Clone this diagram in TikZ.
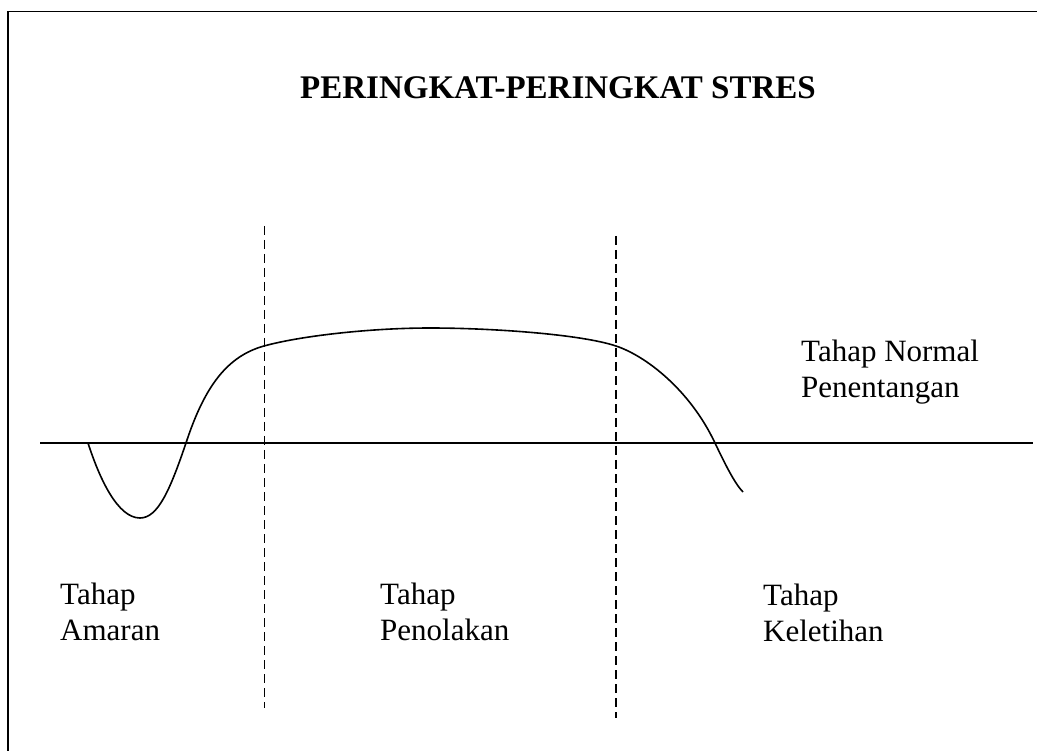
\documentclass[tikz,border=0pt]{standalone}
\usepackage{fontspec}
\setmainfont{Liberation Serif}
\begin{document}
\begin{tikzpicture}[x=1pt,y=-1pt,
  ln/.style={line width=1.6pt,black},
  dashln/.style={line width=1.6pt,black,dash pattern=on 9pt off 5pt},
  lbl/.style={anchor=base west,inner sep=0pt,align=left,font=\fontsize{31}{36}\selectfont},
  ttl/.style={anchor=base,inner sep=0pt,font=\fontsize{33}{36}\selectfont\bfseries}]
\useasboundingbox (0,0) rectangle (1037,751);
% frame
\coordinate (fr) at (1037,11.5);
\coordinate (fc) at (8,11.5);
\coordinate (fb) at (8,751);
\draw[ln] (fr) -- (fc) -- (fb);
% title
\node[ttl] (title) at (558,99) {PERINGKAT-PERINGKAT STRES};
% axis
\coordinate (axL) at (40,443);
\coordinate (axR) at (1033,443);
\draw[ln] (axL) -- (axR);
% dashed separators
\coordinate (d1t) at (264.5,226);
\coordinate (d1b) at (264.5,708);
\coordinate (d2t) at (616,236);
\coordinate (d2b) at (616,718);
\draw[dashln] (d1t) -- (d1b);
\draw[dashln] (d2t) -- (d2b);
% curve
\draw[ln] (88,443) .. controls (100,480) and (118,518) .. (140,518)
  .. controls (158,518) and (170,490) .. (186,443)
  .. controls (205,385) and (228,356) .. (264,346)
  .. controls (300,336) and (370,328) .. (430,328)
  .. controls (490,328) and (580,334) .. (616,346)
  .. controls (646,356) and (690,390) .. (715,443)
  .. controls (725,464) and (735,484) .. (743,492);
% labels (base anchor = baseline of the last line)
\node[lbl] (normal) at (801,398) {Tahap Normal\\Penentangan};
\node[lbl] (amaran) at (60,640) {Tahap\\Amaran};
\node[lbl] (penolakan) at (380,640) {Tahap\\Penolakan};
\node[lbl] (keletihan) at (763,641) {Tahap\\Keletihan};
\end{tikzpicture}
\end{document}
